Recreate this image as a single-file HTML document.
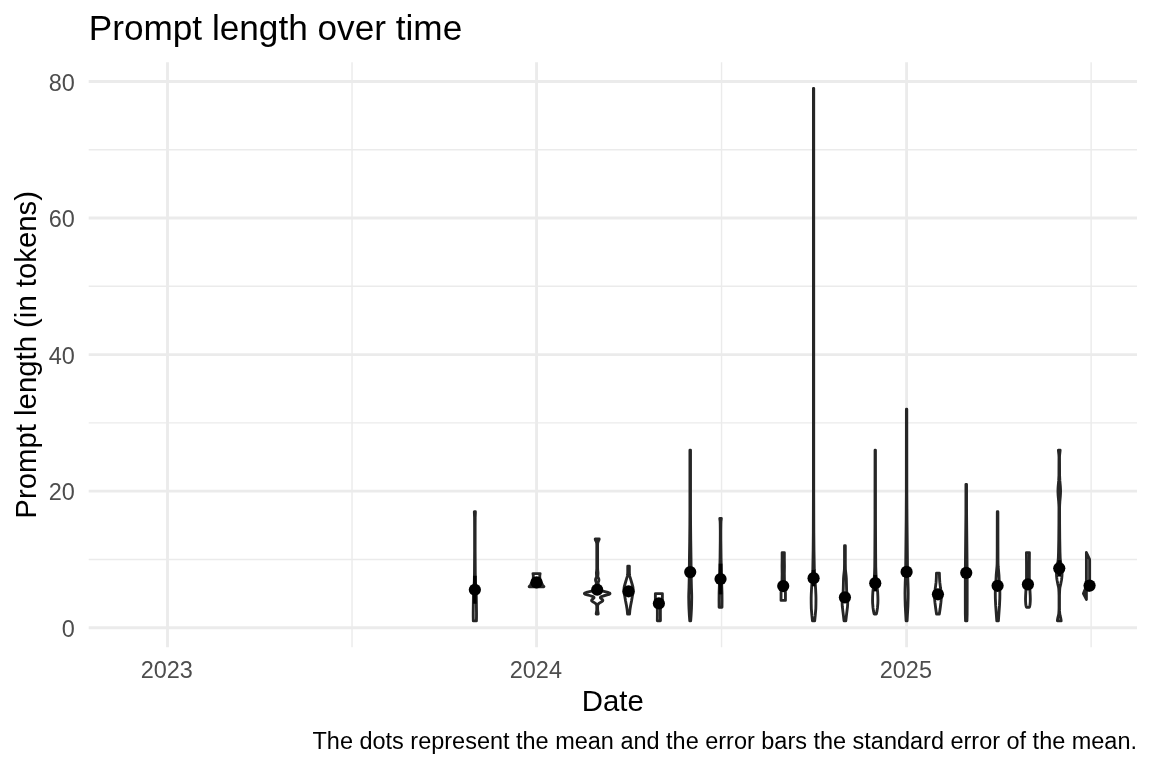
<!DOCTYPE html><html><head><meta charset="utf-8"><title>Prompt length over time</title>
<style>html,body{margin:0;padding:0;background:#fff}svg{display:block}text{font-family:"Liberation Sans",Arial,Helvetica,sans-serif}</style></head><body>
<svg width="1152" height="768" viewBox="0 0 1152 768">
<rect width="1152" height="768" fill="#fff"/>
<g stroke="#ebebeb" stroke-width="1.42" fill="none">
<path d="M88.7 559.42H1137.0"/>
<path d="M88.7 422.87H1137.0"/>
<path d="M88.7 286.31H1137.0"/>
<path d="M88.7 149.76H1137.0"/>
<path d="M352.02 62.3V647.3"/>
<path d="M721.57 62.3V647.3"/>
<path d="M1091.11 62.3V647.3"/>
</g>
<g stroke="#ebebeb" stroke-width="2.85" fill="none">
<path d="M88.7 627.70H1137.0"/>
<path d="M88.7 491.15H1137.0"/>
<path d="M88.7 354.59H1137.0"/>
<path d="M88.7 218.04H1137.0"/>
<path d="M88.7 81.48H1137.0"/>
<path d="M167.50 62.3V647.3"/>
<path d="M536.54 62.3V647.3"/>
<path d="M906.59 62.3V647.3"/>
</g>
<g fill="#fff" stroke="#262626" stroke-width="2.85" stroke-linejoin="round">
<path d="M473.31 620.87L473.23 616.78L473.22 612.68L473.41 596.98L473.56 593.56L474.32 581.27L474.47 572.40L474.61 549.86L474.60 527.33L474.56 517.77L474.31 511.63L475.41 511.63L475.17 517.77L475.13 527.33L475.12 549.86L475.26 572.40L475.41 581.27L476.17 593.56L476.31 596.98L476.51 612.68L476.50 616.78L476.41 620.87Z"/>
<path d="M529.14 586.73L530.20 585.37L530.67 584.69L531.50 583.32L532.17 581.95L532.44 581.27L532.88 579.91L533.18 578.54L533.27 577.86L533.34 576.49L533.25 575.13L532.94 573.56L540.14 573.56L539.83 575.13L539.74 576.49L539.81 577.86L539.90 578.54L540.20 579.91L540.64 581.27L540.91 581.95L541.58 583.32L542.41 584.69L542.88 585.37L543.94 586.73Z"/>
<path d="M596.20 614.04L596.26 613.23L596.68 610.77L596.77 609.67L596.78 606.40L596.71 605.58L596.59 605.03L596.36 604.49L596.20 604.21L595.73 603.67L595.43 603.39L594.67 602.85L592.85 601.75L592.44 601.48L592.09 601.21L591.82 600.94L591.65 600.66L591.59 600.39L591.64 600.12L591.79 599.84L592.03 599.57L592.34 599.30L593.41 598.48L593.71 598.20L593.92 597.93L594.02 597.66L593.98 597.38L593.79 597.11L593.44 596.84L592.91 596.57L592.23 596.29L591.39 596.02L590.44 595.75L587.31 594.93L586.36 594.65L585.54 594.38L584.92 594.11L584.53 593.83L584.40 593.56L584.53 593.29L584.93 593.02L585.56 592.74L586.39 592.47L587.36 592.20L590.61 591.38L591.63 591.10L592.56 590.83L593.38 590.56L594.06 590.28L594.62 590.01L595.04 589.74L595.35 589.46L595.56 589.19L595.69 588.92L595.75 588.65L595.74 588.10L595.59 587.01L595.61 586.46L595.79 585.64L596.23 584.28L596.33 583.73L596.35 583.18L596.20 582.36L595.62 580.73L595.50 579.91L595.62 579.09L596.34 577.17L596.52 576.36L596.56 575.54L596.42 573.62L596.41 572.80L596.70 570.07L596.79 568.44L596.80 545.22L596.74 543.58L596.55 542.49L596.27 541.67L595.35 539.76L595.22 539.21L595.20 538.94L599.20 538.94L599.19 539.21L599.05 539.76L598.14 541.67L597.85 542.49L597.67 543.58L597.61 545.22L597.62 568.44L597.71 570.07L598.00 572.80L597.99 573.62L597.85 575.54L597.89 576.36L598.07 577.17L598.78 579.09L598.91 579.91L598.79 580.73L598.21 582.36L598.06 583.18L598.07 583.73L598.18 584.28L598.62 585.64L598.80 586.46L598.81 587.01L598.67 588.10L598.66 588.65L598.72 588.92L598.84 589.19L599.05 589.46L599.37 589.74L599.79 590.01L600.35 590.28L601.03 590.56L601.84 590.83L602.77 591.10L603.80 591.38L607.04 592.20L608.02 592.47L608.84 592.74L609.48 593.02L609.87 593.29L610.01 593.56L609.88 593.83L609.49 594.11L608.86 594.38L608.05 594.65L607.09 594.93L603.97 595.75L603.02 596.02L602.18 596.29L601.50 596.57L600.97 596.84L600.62 597.11L600.43 597.38L600.39 597.66L600.49 597.93L600.70 598.20L601.00 598.48L602.06 599.30L602.38 599.57L602.62 599.84L602.77 600.12L602.82 600.39L602.75 600.66L602.58 600.94L602.32 601.21L601.97 601.48L601.56 601.75L599.74 602.85L598.98 603.39L598.67 603.67L598.21 604.21L598.04 604.49L597.82 605.03L597.70 605.58L597.63 606.40L597.64 609.67L597.73 610.77L598.15 613.23L598.20 614.04Z"/>
<path d="M627.55 614.04L627.25 610.63L626.86 607.90L626.51 605.85L625.57 601.07L624.77 596.29L624.17 593.56L623.98 592.20L623.95 591.51L624.05 588.10L624.13 587.42L624.28 586.73L625.03 584.00L627.05 577.17L627.40 575.81L627.53 575.13L627.67 573.76L627.74 571.71L627.75 566.25L629.35 566.25L629.35 571.71L629.43 573.76L629.56 575.13L629.69 575.81L630.04 577.17L632.07 584.00L632.82 586.73L632.97 587.42L633.05 588.10L633.15 591.51L633.12 592.20L632.93 593.56L632.33 596.29L631.53 601.07L630.59 605.85L630.24 607.90L629.85 610.63L629.55 614.04Z"/>
<path d="M657.33 620.87L657.38 613.36L657.34 609.27L657.12 607.90L655.80 601.75L655.49 599.71L655.38 598.34L655.38 593.56L662.38 593.56L662.38 598.34L662.27 599.71L661.96 601.75L660.63 607.90L660.41 609.27L660.38 613.36L660.43 620.87Z"/>
<path d="M689.77 620.87L689.35 615.41L688.96 607.90L688.82 603.80L688.72 596.98L688.76 594.24L689.00 587.42L689.29 575.13L689.44 558.06L689.70 540.99L689.86 524.60L689.92 512.31L689.92 450.18L690.52 450.18L690.52 512.31L690.58 524.60L690.75 540.99L691.01 558.06L691.15 575.13L691.44 587.42L691.68 594.24L691.72 596.98L691.62 603.80L691.49 607.90L691.09 615.41L690.67 620.87Z"/>
<path d="M719.10 607.22L719.05 600.39L719.12 592.88L719.52 581.27L720.07 557.37L720.27 540.99L720.30 530.75L720.21 523.92L720.12 521.19L719.75 518.46L721.35 518.46L720.99 521.19L720.90 523.92L720.81 530.75L720.84 540.99L721.04 557.37L721.59 581.27L721.99 592.88L722.05 600.39L722.00 607.22Z"/>
<path d="M781.04 600.39L781.05 592.88L781.30 589.46L781.79 585.37L781.91 584.00L782.06 579.22L782.14 573.76L782.04 566.25L782.14 560.11L782.14 552.59L784.34 552.59L784.34 560.11L784.44 566.25L784.34 573.76L784.42 579.22L784.57 584.00L784.70 585.37L785.18 589.46L785.43 592.88L785.44 600.39Z"/>
<path d="M812.47 620.87L811.89 615.41L811.32 608.58L811.21 603.80L811.17 598.34L811.25 594.93L811.54 588.78L812.61 573.76L812.82 569.66L813.17 549.86L813.32 532.79L813.42 492.51L813.42 88.31L813.72 88.31L813.72 492.51L813.83 532.79L813.97 549.86L814.32 569.66L814.53 573.76L815.60 588.78L815.89 594.93L815.97 598.34L815.93 603.80L815.82 608.58L815.25 615.41L814.67 620.87Z"/>
<path d="M844.02 620.87L843.49 616.09L842.31 606.53L842.19 604.49L842.12 601.75L842.19 600.39L842.62 596.98L843.14 591.51L843.24 589.46L843.52 578.54L843.67 576.49L844.32 570.35L844.42 568.98L844.51 563.52L844.52 545.77L845.32 545.77L845.32 563.52L845.42 568.98L845.51 570.35L846.17 576.49L846.32 578.54L846.59 589.46L846.69 591.51L847.22 596.98L847.64 600.39L847.72 601.75L847.65 604.49L847.52 606.53L846.35 616.09L845.82 620.87Z"/>
<path d="M874.15 614.04L873.42 610.63L873.02 607.90L872.63 603.12L872.55 599.71L872.63 596.29L872.84 592.20L873.97 581.95L874.29 577.86L874.55 573.08L874.74 566.93L874.86 553.96L874.99 524.60L875.05 450.18L875.45 450.18L875.51 524.60L875.64 553.96L875.76 566.93L875.95 573.08L876.20 577.86L876.53 581.95L877.66 592.20L877.86 596.29L877.95 599.71L877.86 603.12L877.48 607.90L877.07 610.63L876.35 614.04Z"/>
<path d="M906.09 620.87L905.26 605.85L905.05 598.34L904.99 593.56L905.04 589.46L905.19 583.32L905.55 574.44L905.68 568.30L906.19 519.14L906.34 492.51L906.39 409.21L906.79 409.21L906.84 492.51L907.00 519.14L907.50 568.30L907.63 574.44L907.99 583.32L908.15 589.46L908.19 593.56L908.13 598.34L907.92 605.85L907.09 620.87Z"/>
<path d="M936.53 614.04L935.72 608.58L934.93 602.44L934.44 596.98L934.33 594.24L934.36 593.56L934.53 592.20L935.10 589.46L935.33 588.10L936.02 582.64L936.19 580.59L936.34 577.86L936.48 573.08L939.38 573.08L939.53 577.86L939.68 580.59L939.85 582.64L940.53 588.10L940.77 589.46L941.34 592.20L941.51 593.56L941.53 594.24L941.42 596.98L940.93 602.44L940.15 608.58L939.33 614.04Z"/>
<path d="M965.54 620.87L965.34 614.04L965.30 598.34L965.31 581.95L965.36 570.35L965.91 512.99L965.94 484.32L966.54 484.32L966.57 512.99L967.13 570.35L967.18 581.95L967.19 598.34L967.14 614.04L966.94 620.87Z"/>
<path d="M996.79 620.87L995.66 605.17L995.35 598.34L995.29 593.56L995.41 586.05L995.51 584.69L995.94 580.59L996.21 575.13L997.01 566.25L997.13 563.52L997.18 560.11L997.24 546.45L997.29 511.63L997.89 511.63L997.94 546.45L997.99 560.11L998.05 563.52L998.16 566.25L998.97 575.13L999.23 580.59L999.66 584.69L999.76 586.05L999.88 593.56L999.82 598.34L999.52 605.17L998.39 620.87Z"/>
<path d="M1026.42 607.22L1026.06 605.85L1025.79 604.49L1025.59 601.75L1025.52 599.02L1025.62 595.61L1026.33 582.64L1026.51 577.86L1026.52 565.57L1026.42 552.59L1029.42 552.59L1029.32 565.57L1029.33 577.86L1029.51 582.64L1030.22 595.61L1030.32 599.02L1030.25 601.75L1030.04 604.49L1029.78 605.85L1029.42 607.22Z"/>
<path d="M1057.36 620.87L1057.53 619.51L1057.76 618.14L1058.46 615.41L1058.80 613.36L1058.98 610.63L1059.06 607.90L1059.05 595.61L1058.95 592.20L1058.76 588.78L1058.59 587.42L1057.66 583.32L1057.13 580.59L1056.91 579.22L1056.66 577.17L1056.53 575.13L1056.46 573.08L1056.53 571.03L1056.84 567.62L1057.76 562.84L1058.13 560.11L1058.32 558.06L1058.54 551.91L1058.78 538.94L1058.91 523.92L1058.96 507.53L1058.86 504.80L1058.66 501.39L1058.16 495.92L1058.01 493.19L1057.96 491.14L1058.01 489.10L1058.16 486.37L1058.66 480.90L1058.94 475.44L1059.01 457.01L1058.89 454.96L1058.36 450.18L1060.16 450.18L1059.64 454.96L1059.51 457.01L1059.59 475.44L1059.86 480.90L1060.36 486.37L1060.51 489.10L1060.56 491.14L1060.51 493.19L1060.36 495.92L1059.86 501.39L1059.66 504.80L1059.57 507.53L1059.61 523.92L1059.74 538.94L1059.98 551.91L1060.20 558.06L1060.40 560.11L1060.76 562.84L1061.68 567.62L1061.99 571.03L1062.06 573.08L1062.00 575.13L1061.86 577.17L1061.62 579.22L1061.40 580.59L1060.86 583.32L1059.93 587.42L1059.76 588.78L1059.57 592.20L1059.47 595.61L1059.47 607.90L1059.55 610.63L1059.73 613.36L1060.06 615.41L1060.76 618.14L1060.99 619.51L1061.16 620.87Z"/>
<path d="M529.94 584.34H543.14"/>
<path d="M1086.4 552.5L1089.6 559.3L1089.6 590L1086.4 590Z"/>
<path d="M1086.4 586L1083.4 593.5L1086.4 599.4Z"/>
</g>
<g stroke="#000" stroke-width="3.6" fill="none">
<path d="M474.86 575.74V603.73"/>
<path d="M536.54 578.95V585.78"/>
<path d="M597.20 587.01V592.47"/>
<path d="M628.55 587.89V594.72"/>
<path d="M658.88 598.00V608.92"/>
<path d="M690.22 568.03V576.22"/>
<path d="M720.55 563.66V594.38"/>
<path d="M783.24 581.27V590.83"/>
<path d="M813.57 569.94V586.32"/>
<path d="M844.92 593.90V600.73"/>
<path d="M875.25 574.99V591.38"/>
<path d="M906.59 567.82V576.01"/>
<path d="M937.93 590.90V597.73"/>
<path d="M966.24 568.78V576.97"/>
<path d="M997.59 581.68V589.87"/>
<path d="M1027.92 580.25V588.44"/>
<path d="M1059.26 560.17V576.56"/>
<path d="M1089.59 582.16V588.99"/>
</g>
<g fill="#000">
<circle cx="474.86" cy="589.74" r="6.1"/>
<circle cx="536.54" cy="582.36" r="6.1"/>
<circle cx="597.20" cy="589.74" r="6.1"/>
<circle cx="628.55" cy="591.31" r="6.1"/>
<circle cx="658.88" cy="603.46" r="6.1"/>
<circle cx="690.22" cy="572.12" r="6.1"/>
<circle cx="720.55" cy="579.02" r="6.1"/>
<circle cx="783.24" cy="586.05" r="6.1"/>
<circle cx="813.57" cy="578.13" r="6.1"/>
<circle cx="844.92" cy="597.32" r="6.1"/>
<circle cx="875.25" cy="583.18" r="6.1"/>
<circle cx="906.59" cy="571.92" r="6.1"/>
<circle cx="937.93" cy="594.31" r="6.1"/>
<circle cx="966.24" cy="572.87" r="6.1"/>
<circle cx="997.59" cy="585.78" r="6.1"/>
<circle cx="1027.92" cy="584.34" r="6.1"/>
<circle cx="1059.26" cy="568.37" r="6.1"/>
<circle cx="1089.59" cy="585.57" r="6.1"/>
</g>
<g fill="#4d4d4d" font-size="23.47px">
<text x="74.8" y="637.4" text-anchor="end">0</text>
<text x="74.8" y="500.2" text-anchor="end">20</text>
<text x="74.8" y="364" text-anchor="end">40</text>
<text x="74.8" y="227" text-anchor="end">60</text>
<text x="74.8" y="91" text-anchor="end">80</text>
<text x="166.80" y="678.3" text-anchor="middle">2023</text>
<text x="535.84" y="678.3" text-anchor="middle">2024</text>
<text x="905.89" y="678.3" text-anchor="middle">2025</text>
</g>
<g fill="#000">
<text x="612.85" y="711" font-size="29.33px" text-anchor="middle">Date</text>
<text transform="translate(35.5 354.80) rotate(-90)" font-size="29.33px" text-anchor="middle">Prompt length (in tokens)</text>
<text x="88.7" y="39.6" font-size="35.2px">Prompt length over time</text>
<text x="1137.0" y="749" font-size="23.47px" text-anchor="end">The dots represent the mean and the error bars the standard error of the mean.</text>
</g>
</svg></body></html>
